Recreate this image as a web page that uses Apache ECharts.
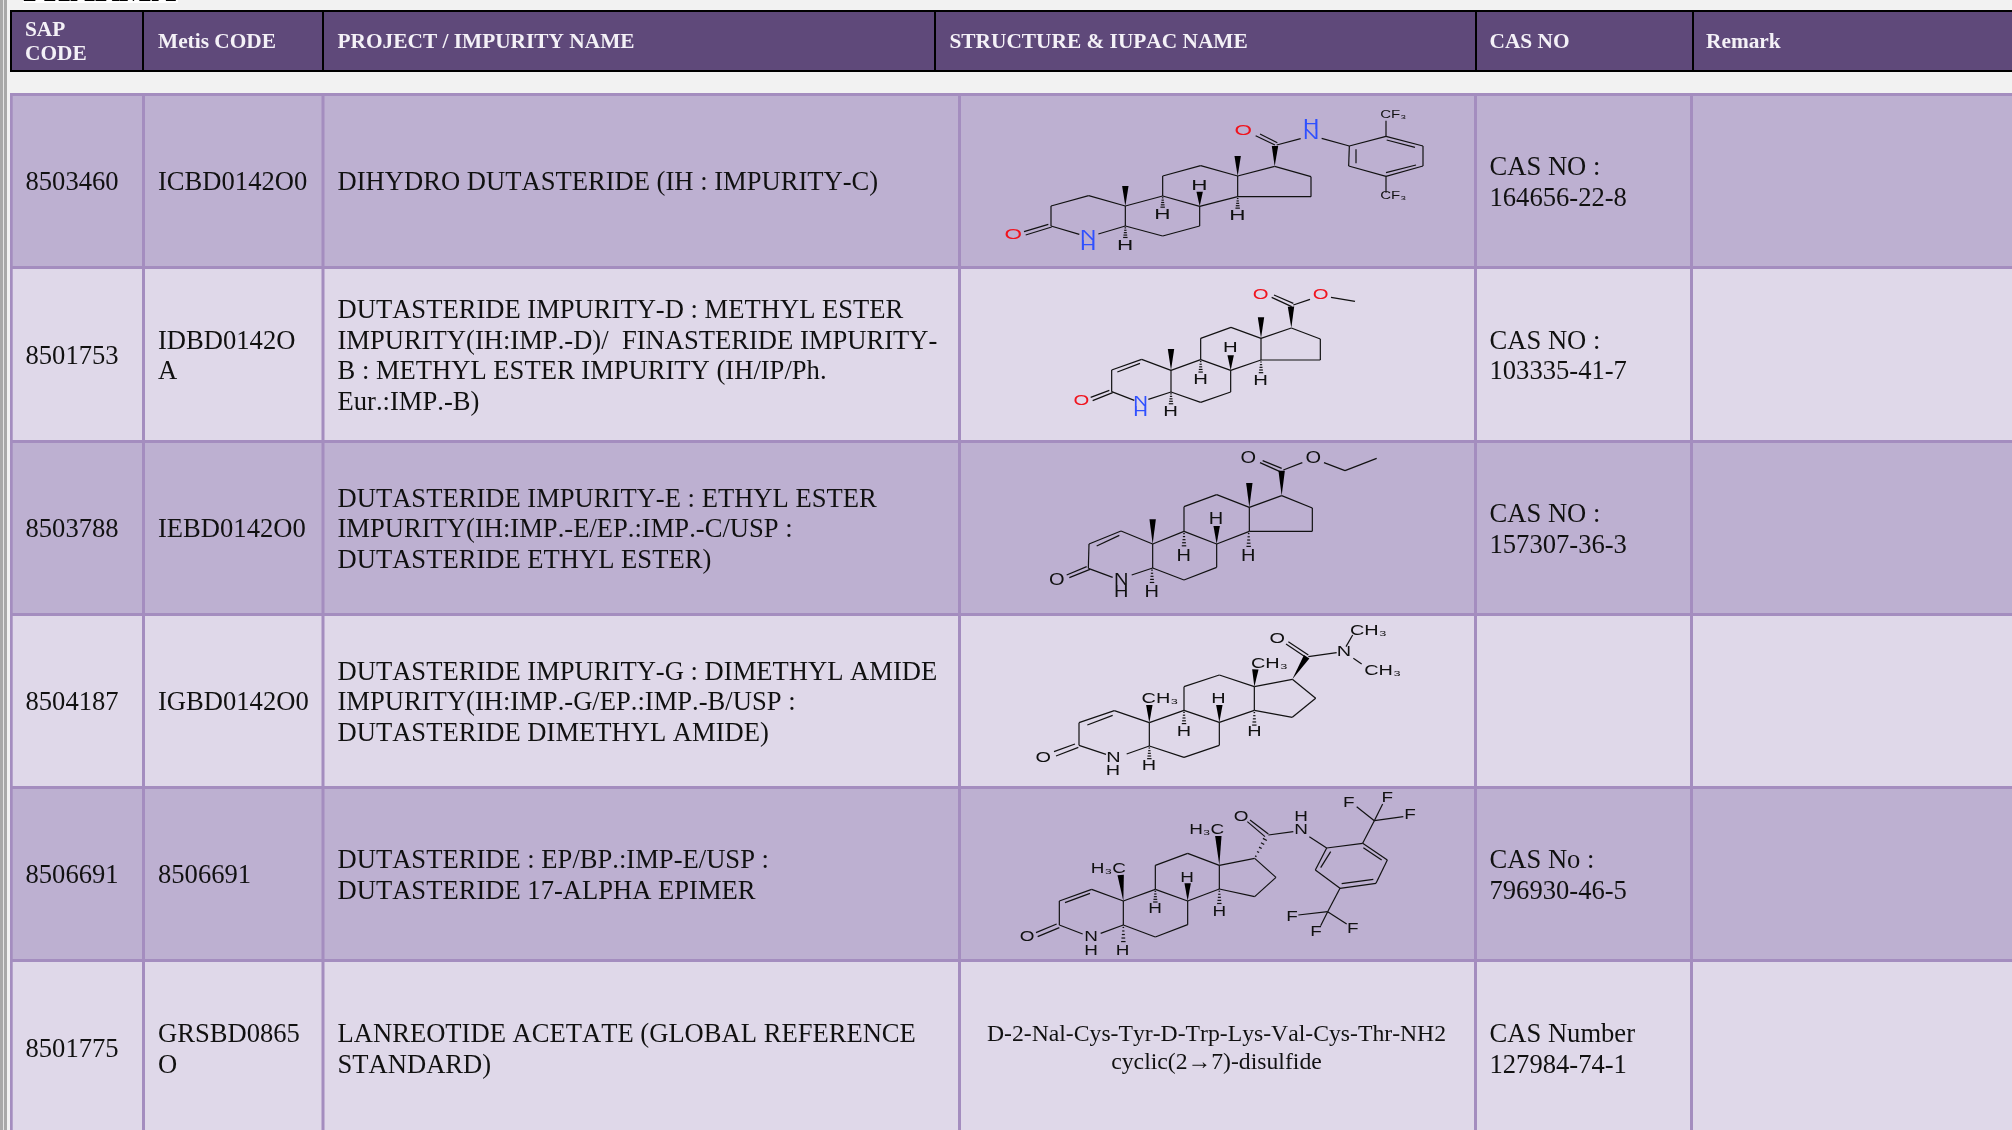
<!DOCTYPE html>
<html><head><meta charset="utf-8">
<style>html,body{margin:0;padding:0;background:#f2f2f2;overflow:hidden}#c{width:2012px;height:1130px;filter:blur(0.4px)}</style>
<script src="https://cdn.jsdelivr.net/npm/echarts@6/dist/echarts.min.js"></script>
</head><body><div id="c"></div>
<script>
// the reference's text is set without kerning
const origGetContext = HTMLCanvasElement.prototype.getContext;
HTMLCanvasElement.prototype.getContext = function(){ const ctx = origGetContext.apply(this, arguments); if (ctx && 'fontKerning' in ctx) ctx.fontKerning = 'none'; return ctx; };

// ---------- table content ----------
const headers = [["SAP","CODE"],["Metis CODE"],["PROJECT / IMPURITY NAME"],["STRUCTURE & IUPAC NAME"],["CAS NO"],["Remark"]];
const sapCodes = ["8503460","8501753","8503788","8504187","8506691","8501775"];
const metisCodes = [["ICBD0142O0"],["IDBD0142O","A"],["IEBD0142O0"],["IGBD0142O0"],["8506691"],["GRSBD0865","O"]];
const projectNames = [
 ["DIHYDRO DUTASTERIDE (IH : IMPURITY-C)"],
 ["DUTASTERIDE IMPURITY-D : METHYL ESTER","IMPURITY(IH:IMP.-D)/  FINASTERIDE IMPURITY-","B : METHYL ESTER IMPURITY (IH/IP/Ph.","Eur.:IMP.-B)"],
 ["DUTASTERIDE IMPURITY-E : ETHYL ESTER","IMPURITY(IH:IMP.-E/EP.:IMP.-C/USP :","DUTASTERIDE ETHYL ESTER)"],
 ["DUTASTERIDE IMPURITY-G : DIMETHYL AMIDE","IMPURITY(IH:IMP.-G/EP.:IMP.-B/USP :","DUTASTERIDE DIMETHYL AMIDE)"],
 ["DUTASTERIDE : EP/BP.:IMP-E/USP :","DUTASTERIDE 17-ALPHA EPIMER"],
 ["LANREOTIDE ACETATE (GLOBAL REFERENCE","STANDARD)"]];
const casNumbers = [["CAS NO :","164656-22-8"],["CAS NO :","103335-41-7"],["CAS NO :","157307-36-3"],[],["CAS No :","796930-46-5"],["CAS Number","127984-74-1"]];
const iupacLines = ["D-2-Nal-Cys-Tyr-D-Trp-Lys-Val-Cys-Thr-NH2","cyclic(2\u21927)-disulfide"];
const pageTitle = "PHARMA";

// ---------- table frame, in the axis domain ----------
const headerCols = [[12,142],[144,322],[324,934],[936,1475],[1477,1692],[1694,2012]];
const bodyCols = [[12.7,142],[145,321.5],[324.5,958],[961,1474],[1477,1690],[1693,2012]];
const bodyRows = [[96,266],[269,440],[443,613],[616,786],[789,959],[962,1130]];
const textX = [25.5,158,337.5,0,1489.5,1706];
const headTextX = [25,158,337.5,949.5,1489.5,1706];

// ---------- structures: traced at 3x, offset by origin ----------
const mol1 = {origin:[960,90],sx:1.5,fs:15,
 bonds:[[192,425,265,403],[197,435,275,411],[273,408,273,348],[273,348,386,317],[386,317,496,348],[496,348,496,408],[496,408,415,432],[273,408,358,433],
 [496,348,608,318],[608,318,719,349],[719,349,719,408],[719,408,608,438],[608,438,496,408],[608,318,608,258],[608,258,722,227],[722,227,833,258],[833,258,833,320],[833,320,719,349],
 [833,258,944,229],[944,229,1053,260],[1053,260,1053,320],[1053,320,833,320],[945,165,887,137],[952,158,900,132],[950,165,1022,146],[1085,145,1168,168],
 [1168,168,1278,139],[1278,139,1389,168],[1389,168,1389,228],[1389,228,1278,259],[1278,259,1166,228],[1166,228,1168,168],[1188,178,1188,220],[1280,150,1365,172],[1278,248,1368,225],[1278,139,1278,92],[1278,259,1278,308]],
 wedges:[[496,348,496,288],[833,258,833,198],[719,349,719,305],[944,229,945,168]],
 hashes:[[608,320,608,355],[833,322,833,358],[496,410,496,446]],
 labels:[["O",160,436,"#f0141e"],["N",384,437,"#2f50ff"],["H",384,467,"#2f50ff"],["H",718,287],["H",607,376],["H",832,377],["H",495,467],["O",850,123,"#f0141e"],["N",1053,134,"#2f50ff"],["H",1053,104,"#2f50ff"],["CF\u2083",1300,77,null,10],["CF\u2083",1300,318,null,10]]};
const mol2 = {origin:[960,90],sx:1.4,fs:14.5,
 bonds:[[392,922,448,901],[398,932,458,908],[455,905,455,840],[455,840,545,808],[472,846,540,820],[545,808,633,841],[633,841,633,906],[633,906,565,928],[455,905,523,931],
 [633,841,722,809],[722,809,812,841],[812,841,812,906],[812,906,722,937],[722,937,633,906],[722,809,722,745],[722,745,813,712],[813,712,903,745],[903,745,903,810],[903,810,812,841],
 [903,745,994,714],[994,714,1081,747],[1081,747,1081,810],[1081,810,903,810],[995,650,935,622],[1000,640,942,615],[1000,645,1050,628],[1113,622,1185,634]],
 wedges:[[633,841,633,777],[903,745,903,682],[812,841,812,796],[994,714,993,650]],
 hashes:[[722,811,722,850],[903,812,903,852],[633,908,633,945]],
 labels:[["O",364,934,"#f0141e"],["N",542,935,"#2f50ff"],["H",542,966,"#2f50ff"],["H",811,775],["H",722,871],["H",902,873],["H",632,966],["O",902,615,"#f0141e"],["O",1082,615,"#f0141e"]]};
const mol3 = {origin:[960,440],sx:1.25,fs:16,
 bonds:[[320,405,380,380],[328,413,390,388],[385,385,387,312],[387,312,483,273],[410,318,478,286],[483,273,578,312],[578,312,578,384],[578,384,515,405],[385,385,458,412],
 [578,312,672,274],[672,274,770,312],[770,312,770,382],[770,382,672,420],[672,420,578,384],[672,274,672,200],[672,200,770,164],[770,164,868,202],[868,202,868,274],[868,274,770,312],
 [868,202,965,167],[965,167,1057,204],[1057,204,1057,274],[1057,274,868,274],[960,95,900,68],[965,85,908,62],[970,90,1027,68],[1092,68,1155,92],[1155,92,1250,55]],
 wedges:[[578,312,578,238],[868,202,868,129],[770,312,770,258],[965,167,965,92]],
 hashes:[[672,276,672,322],[866,276,866,324],[576,386,576,432]],
 labels:[["O",290,422],["N",484,422],["H",484,458],["H",768,238],["H",671,350],["H",865,350],["H",575,457],["O",865,56],["O",1060,57]]};
const mol4 = {origin:[960,440],sx:1.42,fs:14,
 bonds:[[282,935,345,912],[288,948,355,922],[357,916,357,848],[357,848,463,812],[382,855,458,826],[463,812,568,848],[568,848,568,918],[568,918,500,942],[357,916,438,943],
 [568,848,672,811],[672,811,778,847],[778,847,778,916],[778,916,672,952],[672,952,568,918],[672,811,672,740],[672,740,778,705],[778,705,883,740],[883,740,883,811],[883,811,778,847],
 [883,740,997,718],[997,718,1067,775],[1067,775,997,832],[997,832,883,811],[1035,650,978,612],[1045,645,985,605],[1045,650,1130,638],[1158,620,1178,585],[1180,655,1205,672]],
 wedges:[[568,848,568,795],[883,740,886,688],[778,847,778,795],[997,718,1040,650]],
 hashes:[[672,813,672,855],[883,813,883,860],[568,920,568,960]],
 labels:[["O",250,953],["N",460,953],["H",459,992],["CH\u2083",600,777],["CH\u2083",928,672],["H",775,776],["H",672,875],["H",883,877],["H",567,977],["O",952,597],["N",1152,635],["CH\u2083",1225,572],["CH\u2083",1268,692]]};
const mol5 = {origin:[960,780],sx:1.35,fs:14,
 bonds:[[228,458,290,432],[233,470,298,443],[298,435,298,363],[298,363,395,328],[315,368,390,340],[395,328,490,363],[490,363,490,435],[490,435,422,460],[298,435,368,462],
 [490,363,586,328],[586,328,683,363],[683,363,683,434],[683,434,586,471],[586,471,490,435],[586,328,586,256],[586,256,683,220],[683,220,778,256],[778,256,778,327],[778,327,683,363],
 [778,256,884,235],[884,235,948,292],[948,292,884,350],[884,350,778,327],[915,170,862,125],[925,162,870,120],[925,165,1000,155],[1048,170,1100,204],
 [1100,204,1208,190],[1208,190,1282,240],[1282,240,1248,310],[1248,310,1140,325],[1140,325,1066,270],[1066,270,1100,204],[1112,215,1082,263],[1210,203,1265,240],[1240,298,1145,311],
 [1208,190,1243,122],[1243,122,1190,80],[1243,122,1268,72],[1243,122,1330,110],[1140,325,1103,395],[1103,395,1015,405],[1103,395,1082,437],[1103,395,1160,432]],
 wedges:[[490,363,482,285],[778,256,775,168],[683,363,683,310]],
 hashes:[[586,330,586,370],[778,329,778,375],[490,437,490,490],[884,235,918,172]],
 labels:[["O",201,470],["N",393,470],["H",393,513],["H\u2083C",445,267],["H\u2083C",740,150],["H",681,293],["H",585,387],["H",778,396],["H",488,512],["O",843,110],["N",1023,149],["H",1023,110],["F",1166,68],["F",1282,53],["F",1350,104],["F",996,410],["F",1068,455],["F",1178,446]]};
const molecules = [mol1,mol2,mol3,mol4,mol5];

// ---------- colours and fonts ----------
const C = {page:'#f2f2f2',head:'#5f497a',odd:'#bdb0d1',even:'#dfd8e9',rule:'#a48dbf',ink:'#111',strip:'#a8a8a8'};
const SERIF = '"Liberation Serif","Times New Roman",serif', SANS = '"Liberation Sans",Arial,sans-serif';
const BODY_FS = 26.6, HEAD_FS = 21.35, LINE_H = 30.6;

// ---------- build draw lists ----------
const rects = [];
rects.push([0,0,3,1130,C.strip],[3,0,4,1130,'#e4e4e4'],[4,0,7,1130,C.strip]);
rects.push([23,0,178,3,'#ffffff']);
rects.push([10,10,2012,72,'#000']);
headerCols.forEach(c=>rects.push([c[0],12,c[1],70,C.head]));
rects.push([10,93,2012,1130,C.rule]);
bodyRows.forEach((r,i)=>bodyCols.forEach(c=>rects.push([c[0],r[0],c[1],r[1],i%2?C.even:C.odd])));

const texts = [];
texts.push([23,9,pageTitle,'bold 34px '+SERIF,'#000','bottom','left']);
headers.forEach((h,i)=>h.forEach((s,k)=>texts.push([headTextX[i],42.5+(k-(h.length-1)/2)*24,s,'bold '+HEAD_FS+'px '+SERIF,'#f4f1f7','middle','left'])));
function cell(col,row,lines){
  const cy=(row<5?(bodyRows[row][0]+bodyRows[row][1])/2:1048)+2.5;
  lines.forEach((s,k)=>texts.push([textX[col],cy+(k-(lines.length-1)/2)*LINE_H,s,BODY_FS+'px '+SERIF,C.ink,'middle','left']));
}
sapCodes.forEach((s,r)=>cell(0,r,[s]));
metisCodes.forEach((s,r)=>cell(1,r,s));
projectNames.forEach((s,r)=>cell(2,r,s));
casNumbers.forEach((s,r)=>cell(4,r,s));
iupacLines.forEach((s,k)=>texts.push([1216.5,1034.5+k*28.6,s,'23.7px '+SERIF,C.ink,'middle','center']));

const segs=[],polys=[],hashes=[],labels=[];
const map=(m,x,y)=>[m.origin[0]+x/3,m.origin[1]+y/3];
molecules.forEach(m=>{
  m.bonds.forEach(b=>{const p=map(m,b[0],b[1]),q=map(m,b[2],b[3]);segs.push([p[0],p[1],q[0],q[1]]);});
  m.wedges.forEach(b=>{const p=map(m,b[0],b[1]),q=map(m,b[2],b[3]);polys.push([p[0],p[1],q[0],q[1]]);});
  m.hashes.forEach(b=>{const p=map(m,b[0],b[1]),q=map(m,b[2],b[3]);hashes.push([p[0],p[1],q[0],q[1]]);});
  m.labels.forEach(l=>{const p=map(m,l[1],l[2]);labels.push([p[0],p[1],l[0],l[3]||'#111',l[4]||m.fs,m.sx]);});
});

// ---------- renderers ----------
const renderRect=(ps,api)=>{const d=rects[ps.dataIndex],a=api.coord([d[0],d[1]]),b=api.coord([d[2],d[3]]);
  return {type:'rect',shape:{x:a[0],y:a[1],width:b[0]-a[0],height:b[1]-a[1]},style:{fill:d[4]}};};
const renderText=(ps,api)=>{const d=texts[ps.dataIndex],a=api.coord([d[0],d[1]]);
  return {type:'text',style:{x:a[0],y:a[1],text:d[2],font:d[3],fill:d[4],verticalAlign:d[5],align:d[6]}};};
const renderSeg=(ps,api)=>{const d=segs[ps.dataIndex],a=api.coord([d[0],d[1]]),b=api.coord([d[2],d[3]]);
  return {type:'line',shape:{x1:a[0],y1:a[1],x2:b[0],y2:b[1]},style:{stroke:'#111',lineWidth:1.2}};};
const renderWedge=(ps,api)=>{const d=polys[ps.dataIndex],a=api.coord([d[0],d[1]]),b=api.coord([d[2],d[3]]);
  const L=Math.hypot(b[0]-a[0],b[1]-a[1]),nx=-(b[1]-a[1])/L,ny=(b[0]-a[0])/L,w=3.2;
  return {type:'polygon',shape:{points:[[a[0],a[1]],[b[0]+nx*w,b[1]+ny*w],[b[0]-nx*w,b[1]-ny*w]]},style:{fill:'#000'}};};
const renderHash=(ps,api)=>{const d=hashes[ps.dataIndex],a=api.coord([d[0],d[1]]),b=api.coord([d[2],d[3]]);
  const L=Math.hypot(b[0]-a[0],b[1]-a[1]),nx=-(b[1]-a[1])/L,ny=(b[0]-a[0])/L,n=5,kids=[];
  for(let i=0;i<n;i++){const t=(i+.5)/n,w=.6+t*1.8,x=a[0]+(b[0]-a[0])*t,y=a[1]+(b[1]-a[1])*t;
    kids.push({type:'line',shape:{x1:x-nx*w,y1:y-ny*w,x2:x+nx*w,y2:y+ny*w},style:{stroke:'#111',lineWidth:1.2}});}
  return {type:'group',children:kids};};
const renderLabel=(ps,api)=>{const d=labels[ps.dataIndex],a=api.coord([d[0],d[1]]);
  return {type:'text',x:a[0],y:a[1],scaleX:d[5],style:{x:0,y:0,text:d[2],font:d[4]+'px '+SANS,fill:d[3],align:'center',verticalAlign:'middle'}};};

const mk=(list,fn,z)=>({type:'custom',coordinateSystem:'cartesian2d',silent:true,clip:false,z,animation:false,
  renderItem:fn,data:list.map(d=>[d[0],d[1]])});

const chart=echarts.init(document.getElementById('c'),null,{renderer:'canvas'});
chart.setOption({
  backgroundColor:C.page,animation:false,tooltip:{show:false},
  grid:{left:0,right:0,top:0,bottom:0},
  xAxis:{type:'value',min:0,max:2012,show:false},
  yAxis:{type:'value',min:0,max:1130,inverse:true,show:false},
  series:[mk(rects,renderRect,1),mk(segs,renderSeg,2),mk(polys,renderWedge,3),mk(hashes,renderHash,3),mk(labels,renderLabel,4),mk(texts,renderText,5)]
});
</script></body></html>
